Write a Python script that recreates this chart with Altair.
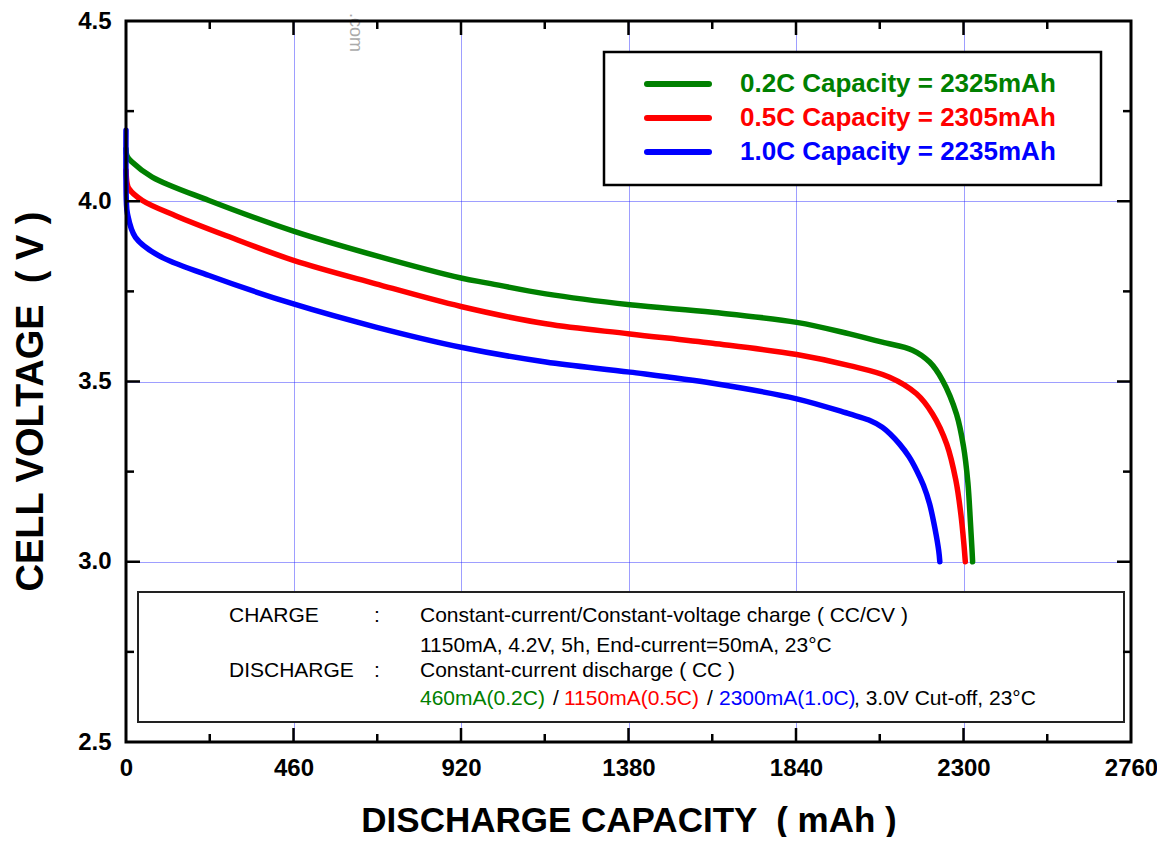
import altair as alt
import pandas as pd

# ---------------- data ----------------
series_names = ["0.2C", "0.5C", "1.0C"]
series_colors = ["#008000", "#ff0000", "#0000ff"]

green_x = [0, 3, 15, 72, 228, 460, 686, 920, 994, 1153, 1384, 1611, 1842, 1987, 2077, 2160, 2207, 2242, 2281, 2300, 2312, 2319, 2323, 2325]
green_y = [4.145, 4.125, 4.11, 4.067, 4.002, 3.917, 3.849, 3.787, 3.773, 3.743, 3.713, 3.692, 3.664, 3.632, 3.609, 3.587, 3.554, 3.504, 3.409, 3.32, 3.22, 3.11, 3.04, 3.0]

red_x = [0, 3, 8, 45, 136, 274, 460, 686, 920, 1153, 1384, 1611, 1842, 1987, 2097, 2171, 2215, 2254, 2279, 2293, 2301, 2305]
red_y = [4.086, 4.05, 4.035, 4.002, 3.96, 3.905, 3.836, 3.771, 3.708, 3.66, 3.632, 3.606, 3.575, 3.544, 3.512, 3.466, 3.41, 3.326, 3.226, 3.13, 3.05, 3.0]

blue_x = [0, 1, 4, 26, 90, 228, 460, 686, 920, 1153, 1384, 1611, 1842, 1987, 2040, 2077, 2100, 2124, 2150, 2171, 2190, 2207, 2222, 2232, 2235]
blue_y = [4.197, 4.0, 3.965, 3.9, 3.849, 3.794, 3.715, 3.651, 3.595, 3.554, 3.526, 3.495, 3.452, 3.41, 3.393, 3.373, 3.353, 3.327, 3.292, 3.254, 3.212, 3.16, 3.09, 3.03, 3.0]

x_labels = [0, 460, 920, 1380, 1840, 2300, 2760]
y_labels = [2.5, 3.0, 3.5, 4.0, 4.5]
x_major_ticks = [460, 920, 1380, 1840, 2300]
x_minor_ticks = [230, 690, 1150, 1610, 2070, 2530]
y_major_ticks = [3.0, 3.5, 4.0]
y_minor_ticks = [2.75, 3.25, 3.75, 4.25]

legend_texts = ["0.2C Capacity = 2325mAh", "0.5C Capacity = 2305mAh", "1.0C Capacity = 2235mAh"]

info_black = ["CHARGE", ":", "Constant-current/Constant-voltage charge ( CC/CV )",
              "1150mA, 4.2V, 5h, End-current=50mA, 23°C",
              "DISCHARGE", ":", "Constant-current discharge ( CC )"]
info_line4 = ["460mA(0.2C)", "/", "1150mA(0.5C)", "/", "2300mA(1.0C)", ", 3.0V Cut-off, 23°C"]
info_line4_colors = ["#008000", "#000000", "#ff0000", "#000000", "#0000ff", "#000000"]

# ---------------- layout ----------------
W, H = 1005, 721
FONT = "Liberation Sans, Arial, Helvetica, sans-serif"
GRID = "#1a1aff"

rows = []
for name, xs, ys in zip(series_names, [green_x, red_x, blue_x], [green_y, red_y, blue_y]):
    for i, (a, b) in enumerate(zip(xs, ys)):
        rows.append({"series": name, "cap": a, "v": b, "idx": i})
df = pd.DataFrame(rows)

xscale = alt.Scale(domain=[0, 2760], nice=False, zero=False)
yscale = alt.Scale(domain=[2.5, 4.5], nice=False, zero=False)
cscale = alt.Scale(domain=series_names, range=series_colors)

x_axis = alt.Axis(values=x_labels, format="d", title="DISCHARGE CAPACITY \u00a0( mAh )",
                  labelFont=FONT, labelFontSize=24, labelFontWeight="bold", labelColor="black",
                  labelPadding=14, ticks=False, domain=False, labelFlush=False,
                  grid=True, gridColor=GRID, gridDash=[1, 1], gridWidth=1, gridOpacity=0.85,
                  titleFont=FONT, titleFontSize=35, titleFontWeight="bold", titleColor="black",
                  titleX=W / 2, titleY=78, titleAlign="center", titleBaseline="middle")
y_axis = alt.Axis(values=y_labels, format=".1f", title="CELL VOLTAGE \u00a0( V )",
                  labelFont=FONT, labelFontSize=24, labelFontWeight="bold", labelColor="black",
                  labelPadding=15, ticks=False, domain=False, labelFlush=False,
                  grid=True, gridColor=GRID, gridDash=[1, 1], gridWidth=1, gridOpacity=0.85,
                  titleFont=FONT, titleFontSize=38, titleFontWeight="bold", titleColor="black",
                  titleAngle=270, titleX=-95, titleY=380, titleAlign="center", titleBaseline="middle")

X = alt.X("cap:Q", scale=xscale, axis=x_axis)
Y = alt.Y("v:Q", scale=yscale, axis=y_axis)

lines = alt.Chart(df).mark_line(strokeWidth=5.5, interpolate="catmull-rom", strokeCap="round",
                                strokeJoin="round").encode(
    x=X, y=Y,
    color=alt.Color("series:N", scale=cscale, legend=None),
    order="idx:Q",
)

# inward tick marks on all four sides
def xticks(vals, y0, y1):
    return alt.Chart(pd.DataFrame({"cap": vals})).mark_rule(color="black", strokeWidth=2.5).encode(
        x=X, y=alt.value(y0), y2=alt.value(y1))

def yticks(vals, x0, x1):
    return alt.Chart(pd.DataFrame({"v": vals})).mark_rule(color="black", strokeWidth=2.5).encode(
        y=Y, x=alt.value(x0), x2=alt.value(x1))

ticks = [
    xticks(x_major_ticks, H, H - 14), xticks(x_minor_ticks, H, H - 8),
    xticks(x_major_ticks, 0, 14), xticks(x_minor_ticks, 0, 8),
    yticks(y_major_ticks, 0, 14), yticks(y_minor_ticks, 0, 8),
    yticks(y_major_ticks, W, W - 14), yticks(y_minor_ticks, W, W - 8),
]

# legend box
legend_box = alt.Chart(pd.DataFrame({"a": [0]})).mark_rect(fill="white", stroke="black", strokeWidth=2.5).encode(
    x=alt.value(478), x2=alt.value(975), y=alt.value(31), y2=alt.value(164))
leg_y = [63, 97, 131]
leg_df = pd.DataFrame({"series": series_names, "text": legend_texts, "py": leg_y})
legend_lines = alt.Chart(leg_df).mark_rule(strokeWidth=6, strokeCap="round").encode(
    x=alt.value(521), x2=alt.value(583), y=alt.Y("py:Q", scale=None),
    color=alt.Color("series:N", scale=cscale, legend=None))
legend_text = alt.Chart(leg_df).mark_text(align="left", baseline="middle", font=FONT, fontSize=26,
                                          fontWeight="bold").encode(
    x=alt.value(614), y=alt.Y("py:Q", scale=None), text="text:N",
    color=alt.Color("series:N", scale=cscale, legend=None))

# information box
info_box = alt.Chart(pd.DataFrame({"a": [0]})).mark_rect(fill="white", stroke="#222222", strokeWidth=2).encode(
    x=alt.value(12), x2=alt.value(998), y=alt.value(571), y2=alt.value(701))
info_df = pd.DataFrame({
    "text": info_black + info_line4,
    "px": [103, 248, 294, 294, 103, 248, 294] + [294, 427, 438, 581, 593, 728],
    "py": [595, 595, 595, 625, 650, 650, 650] + [678] * 6,
    "col": ["#000000"] * 7 + info_line4_colors,
})
info_text = alt.Chart(info_df).mark_text(align="left", baseline="middle", font=FONT, fontSize=21).encode(
    x=alt.X("px:Q", scale=None), y=alt.Y("py:Q", scale=None), text="text:N",
    color=alt.Color("col:N", scale=None))

# faint watermark at the top
watermark = alt.Chart(pd.DataFrame({"t": [".com"]})).mark_text(
    angle=90, align="right", baseline="middle", font=FONT, fontSize=18, color="#aaaaaa").encode(
    x=alt.value(229), y=alt.value(31), text="t:N")

frame = alt.Chart(pd.DataFrame({"a": [0]})).mark_rect(fill=None, stroke="black", strokeWidth=3).encode(
    x=alt.value(0), x2=alt.value(W), y=alt.value(0), y2=alt.value(H))

chart = alt.layer(
    lines, watermark, info_box, info_text, legend_box, legend_lines, legend_text, *ticks, frame
).properties(
    width=W, height=H,
    padding={"left": 118, "top": 13, "right": 26, "bottom": 95},
    autosize=alt.AutoSizeParams(type="none"),
    background="white",
).configure_view(stroke=None)

chart.save("out.html", embed_options={"renderer": "svg", "actions": False})
